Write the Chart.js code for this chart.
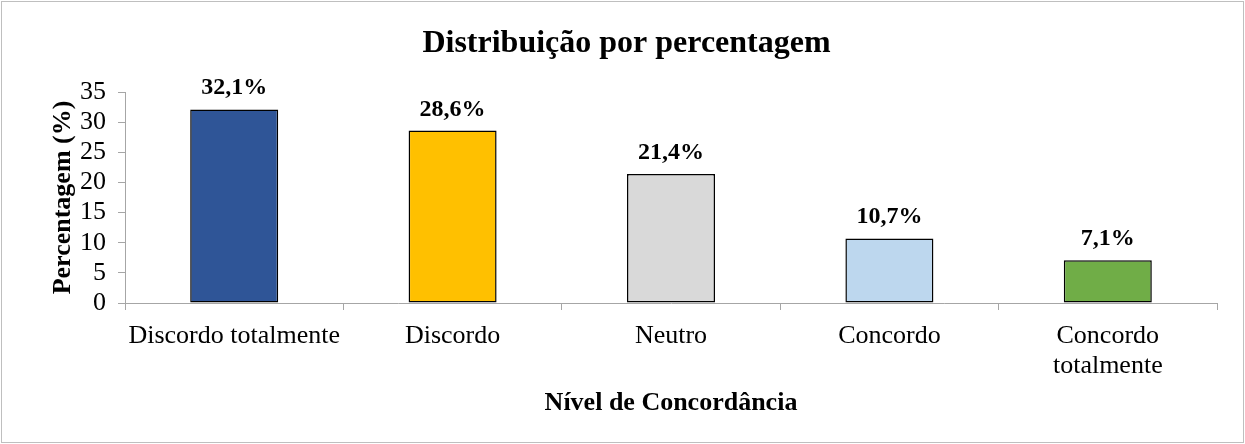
<!DOCTYPE html>
<html><head><meta charset="utf-8">
<script src="https://cdn.jsdelivr.net/npm/chart.js@4.4.1/dist/chart.umd.min.js"></script>
<style>html,body{margin:0;padding:0;background:#fff;}canvas{display:block;}</style>
</head><body>
<canvas id="c" width="1245" height="444"></canvas>
<script>
const categories = ["Discordo totalmente", "Discordo", "Neutro", "Concordo", ["Concordo", "totalmente"]];
const values = [32.1, 28.6, 21.4, 10.7, 7.1];
const valueLabels = ["32,1%", "28,6%", "21,4%", "10,7%", "7,1%"];
const barColors = ["#2F5597", "#FFC000", "#D9D9D9", "#BDD7EE", "#70AD47"];
const yTicks = [0, 5, 10, 15, 20, 25, 30, 35];
const chartTitle = "Distribuição por percentagem";
const xTitle = "Nível de Concordância";
const yTitle = "Percentagem (%)";

const SERIF = "'Liberation Serif','Times New Roman',serif";

const borderPlugin = {
  id: 'outerBorder',
  beforeDraw(chart) {
    const ctx = chart.ctx;
    ctx.save();
    ctx.fillStyle = '#fff';
    ctx.fillRect(0, 0, chart.width, chart.height);
    ctx.strokeStyle = '#BFBFBF';
    ctx.lineWidth = 1;
    ctx.strokeRect(1.5, 1.5, chart.width - 3, chart.height - 3);
    ctx.restore();
  }
};

const valueLabelPlugin = {
  id: 'valueLabels',
  afterDatasetsDraw(chart) {
    const ctx = chart.ctx;
    const meta = chart.getDatasetMeta(0);
    ctx.save();
    ctx.font = "bold 24px " + SERIF;
    ctx.fillStyle = '#000';
    ctx.textAlign = 'center';
    ctx.textBaseline = 'alphabetic';
    meta.data.forEach((bar, i) => {
      ctx.fillText(valueLabels[i], bar.x, bar.y - 15);
    });
    ctx.restore();
  }
};

new Chart(document.getElementById('c'), {
  type: 'bar',
  data: {
    labels: categories,
    datasets: [{
      data: values,
      backgroundColor: barColors,
      borderColor: '#000',
      borderWidth: 1.5,
      borderSkipped: false,
      categoryPercentage: 1,
      barPercentage: 0.403
    }]
  },
  options: {
    responsive: false,
    animation: false,
    devicePixelRatio: 1,
    layout: { padding: { left: 36, right: 28, top: 0, bottom: 25 } },
    plugins: {
      legend: { display: false },
      tooltip: { enabled: false },
      title: {
        display: true,
        text: chartTitle,
        color: '#000',
        font: { family: SERIF, size: 32, weight: 'bold', lineHeight: 1.2 },
        padding: { top: 25, bottom: 28.6 }
      }
    },
    scales: {
      x: {
        grid: { display: true, drawOnChartArea: false, drawTicks: true, tickLength: 7, color: '#A6A6A6', offset: true },
        border: { display: true, color: '#A6A6A6', width: 1 },
        ticks: { color: '#000', font: { family: SERIF, size: 26, lineHeight: 1.15 }, padding: 11, maxRotation: 0, autoSkip: false },
        title: { display: true, text: xTitle, color: '#000', font: { family: SERIF, size: 26, weight: 'bold', lineHeight: 1.2 }, padding: 0 },
        afterFit(scale) { scale.height = 116; }
      },
      y: {
        min: 0, max: 35,
        afterBuildTicks(scale) { scale.ticks = yTicks.map(v => ({ value: v })); },
        grid: { display: true, drawOnChartArea: false, drawTicks: true, tickLength: 7, color: '#A6A6A6' },
        border: { display: true, color: '#A6A6A6', width: 1 },
        ticks: { color: '#000', font: { family: SERIF, size: 26 }, padding: 12, autoSkip: false, stepSize: 5 },
        title: { display: true, text: yTitle, color: '#000', font: { family: SERIF, size: 26, weight: 'bold', lineHeight: 1.2 }, padding: { top: 12, bottom: 0 } },
        afterFit(scale) { scale.width = 89; }
      }
    }
  },
  plugins: [borderPlugin, valueLabelPlugin]
});
</script>
</body></html>
